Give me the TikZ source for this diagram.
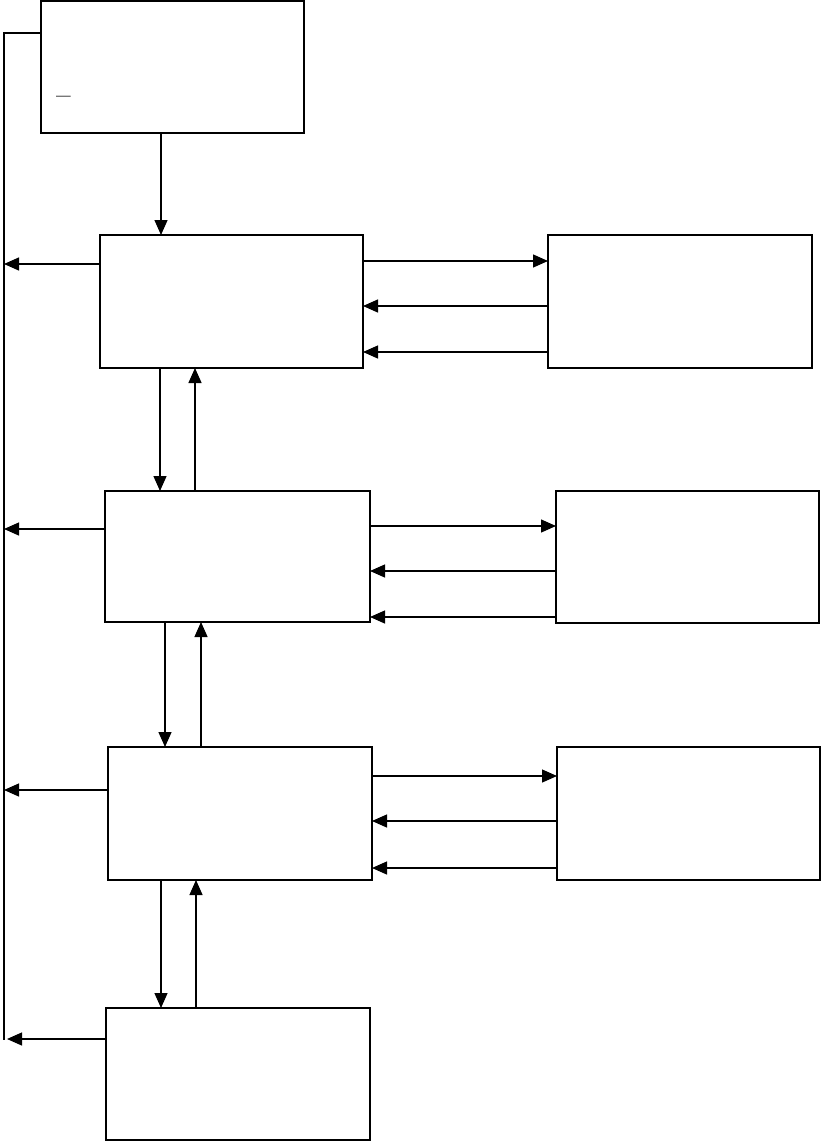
\documentclass[tikz,border=0pt]{standalone}
\usetikzlibrary{arrows.meta}
\begin{document}
\begin{tikzpicture}[x=1pt,y=-1pt,
  box/.style={draw,line width=1.8pt,inner sep=0pt,outer sep=0pt,anchor=north west},
  arr/.style={line width=1.3pt,-{Triangle[length=15pt,width=13pt]}},
  ln/.style={line width=1.3pt}]
\useasboundingbox (0,0) rectangle (821,1142);
% boxes
\node[box,minimum width=263pt,minimum height=132pt] (T) at (41,1) {};
\node[box,minimum width=263pt,minimum height=133pt] (B1) at (100,235) {};
\node[box,minimum width=264pt,minimum height=133pt] (R1) at (548,235) {};
\node[box,minimum width=265pt,minimum height=131pt] (B2) at (105,491) {};
\node[box,minimum width=263pt,minimum height=132pt] (R2) at (556,491) {};
\node[box,minimum width=264pt,minimum height=133pt] (B3) at (108,747) {};
\node[box,minimum width=263pt,minimum height=133pt] (R3) at (557,747) {};
\node[box,minimum width=264pt,minimum height=132pt] (B4) at (106,1008) {};
\node[inner sep=0pt,anchor=base west,font=\LARGE\bfseries] (u) at (56,95) {\textunderscore};
% left bus line
\coordinate (Ltop) at (4,33);
\coordinate (Lbot) at (4,1040);
\draw[ln] (T.west |- Ltop) -- (Ltop) -- (Lbot);
% arrows to bus
\draw[arr] (B1.west |- 0,264) -- (Ltop |- 0,264);
\draw[arr] (B2.west |- 0,529) -- (Ltop |- 0,529);
\draw[arr] (B3.west |- 0,790) -- (Ltop |- 0,790);
\draw[arr] (B4.west |- 0,1039) -- (7,1039);
% vertical arrows
\draw[arr] (T.south -| 161,0) -- (B1.north -| 161,0);
\draw[arr] (B1.south -| 160,0) -- (B2.north -| 160,0);
\draw[arr] (B2.north -| 195,0) -- (B1.south -| 195,0);
\draw[arr] (B2.south -| 165,0) -- (B3.north -| 165,0);
\draw[arr] (B3.north -| 201,0) -- (B2.south -| 201,0);
\draw[arr] (B3.south -| 161,0) -- (B4.north -| 161,0);
\draw[arr] (B4.north -| 196,0) -- (B3.south -| 196,0);
% row 1
\draw[arr] (B1.east |- 0,261) -- (R1.west |- 0,261);
\draw[arr] (R1.west |- 0,306) -- (B1.east |- 0,306);
\draw[arr] (R1.west |- 0,352) -- (B1.east |- 0,352);
% row 2
\draw[arr] (B2.east |- 0,526) -- (R2.west |- 0,526);
\draw[arr] (R2.west |- 0,571) -- (B2.east |- 0,571);
\draw[arr] (R2.west |- 0,617) -- (B2.east |- 0,617);
% row 3
\draw[arr] (B3.east |- 0,776) -- (R3.west |- 0,776);
\draw[arr] (R3.west |- 0,821) -- (B3.east |- 0,821);
\draw[arr] (R3.west |- 0,868) -- (B3.east |- 0,868);
\end{tikzpicture}
\end{document}
